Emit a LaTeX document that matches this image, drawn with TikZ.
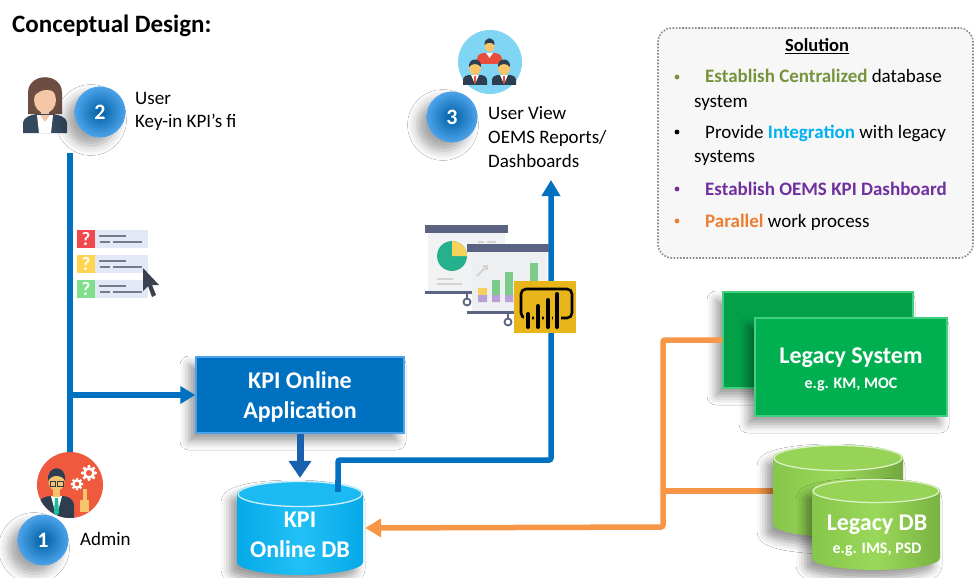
\documentclass[tikz,border=0pt]{standalone}
\usepackage{fontspec}
\setmainfont{Carlito}
\usetikzlibrary{arrows.meta,shadows.blur}

\definecolor{kblue}{HTML}{0070C0}
\definecolor{kbluedark}{HTML}{1761AD}
\definecolor{kbluerim}{HTML}{4DA3EA}
\definecolor{kcyan}{HTML}{06AAE8}
\definecolor{kcyanlite}{HTML}{22C0F6}
\definecolor{kcyantop}{HTML}{1BBAF2}
\definecolor{korange}{HTML}{F79646}
\definecolor{lsysfront}{HTML}{00B050}
\definecolor{lsysback}{HTML}{03A04A}
\definecolor{lsysrim}{HTML}{43CF80}
\definecolor{ldbbody}{HTML}{86C64A}
\definecolor{ldblite}{HTML}{9AD85A}
\definecolor{ldbtop}{HTML}{96D356}
\definecolor{solgreen}{HTML}{77933C}
\definecolor{solblue}{HTML}{00B0F0}
\definecolor{solpurple}{HTML}{7030A0}
\definecolor{solorange}{HTML}{ED7D31}
\definecolor{solfill}{HTML}{F7F7F7}
\definecolor{solrim}{HTML}{8A8A8A}
\definecolor{hair}{HTML}{6D4C41}
\definecolor{skinpeach}{HTML}{F5C7A6}
\definecolor{skinyel}{HTML}{F6C46A}
\definecolor{suit}{HTML}{34495E}
\definecolor{navy}{HTML}{2C3E50}
\definecolor{adminred}{HTML}{EF5A3F}
\definecolor{teal}{HTML}{1ABC9C}
\definecolor{groupblue}{HTML}{80D5F5}
\definecolor{tiered}{HTML}{E74C3C}
\definecolor{qred}{HTML}{F2484B}
\definecolor{qyel}{HTML}{FFD54F}
\definecolor{qgrn}{HTML}{7EE08A}
\definecolor{qbg}{HTML}{E3E8F6}
\definecolor{qline}{HTML}{737B8C}
\definecolor{cursorgray}{HTML}{3B4150}
\definecolor{boardbar}{HTML}{5A6382}
\definecolor{boardbg}{HTML}{EDEFF0}
\definecolor{boardbgb}{HTML}{F1F2F3}
\definecolor{pieteal}{HTML}{27B08E}
\definecolor{chartyel}{HTML}{F5D35A}
\definecolor{chartgrn}{HTML}{7CCB8A}
\definecolor{chartpur}{HTML}{B9A0DA}
\definecolor{pbiyel}{HTML}{E8B51A}

\begin{document}
\begin{tikzpicture}[x=1pt,y=1pt,
  bline/.style={draw=kblue, line width=5.5pt},
  oline/.style={draw=korange, line width=5.5pt},
  softshadow/.style={blur shadow={shadow xshift=-7pt, shadow yshift=-8pt, shadow blur radius=9pt, shadow opacity=40}},
  numball/.style={circle, minimum size=51pt, inner sep=0, inner color=kblue!85!black, outer color=kbluerim,
    text=white, font=\bfseries\fontsize{22}{24}\selectfont,
    blur shadow={shadow xshift=-9pt, shadow yshift=-8pt, shadow blur radius=10pt, shadow opacity=35}},
  lbl/.style={anchor=base west, inner sep=0, font=\fontsize{19}{23}\selectfont},
  boxlbl/.style={anchor=base, inner sep=0, text=white, font=\bfseries\fontsize{24}{28}\selectfont},
  sublbl/.style={anchor=base, inner sep=0, text=white, font=\bfseries\fontsize{16}{19}\selectfont},
  soltxt/.style={anchor=base west, inner sep=0, font=\fontsize{19}{23}\selectfont},
]
\useasboundingbox (0,0) rectangle (975,-578);
\fill[white] (0,0) rectangle (975,-578);

% ---------- heading ----------
\node[anchor=base west, inner sep=0, font=\bfseries\fontsize{25}{29}\selectfont] (title) at (12,-33) {Conceptual Design:};

% ---------- solution panel ----------
\node[draw=solrim, fill=solfill, rounded corners=14pt, line width=1.6pt,
      dash pattern=on 1.6pt off 1.6pt, minimum width=315pt, minimum height=230pt] (sol) at (815.5,-143) {};
\node[anchor=base, inner sep=0, font=\bfseries\fontsize{18.5}{22}\selectfont] (soltitle) at (817,-52) {\underline{Solution}};
\fill[solgreen]  (677,-77)  circle (2.4);
\fill[black]     (677,-132) circle (2.4);
\fill[solpurple] (677,-189) circle (2.4);
\fill[solorange] (677,-221) circle (2.4);
\node[soltxt] (s1)  at (705,-83)  {\textcolor{solgreen}{\bfseries Establish Centralized} database};
\node[soltxt] (s1b) at (694,-107) {system};
\node[soltxt] (s2)  at (705,-138) {Provide \textcolor{solblue}{\bfseries Integration} with legacy};
\node[soltxt] (s2b) at (694,-162) {systems};
\node[soltxt] (s3)  at (705,-195) {\color{solpurple}\bfseries Establish OEMS KPI Dashboard};
\node[soltxt] (s4)  at (705,-227) {\textcolor{solorange}{\bfseries Parallel} work process};

% ---------- named anchors for the boxes and databases ----------
\node[minimum width=126pt, minimum height=94pt, inner sep=0] (kpidb) at (300,-528) {};
\node[minimum width=130pt, minimum height=92pt, inner sep=0] (ldbb) at (838,-491) {};
\node[minimum width=128pt, minimum height=91pt, inner sep=0] (ldbf) at (876,-524.5) {};
\node[fill=lsysback, draw=lsysrim, line width=1.2pt, minimum width=190pt, minimum height=96pt, softshadow] (lsysb) at (818,-340) {};
\node[fill=lsysfront, draw=lsysrim, line width=1.4pt, minimum width=192pt, minimum height=98pt, softshadow] (lsysf) at (851,-367) {};
\node[boxlbl] (lsyst1) at (851,-363) {Legacy System};
\node[sublbl] (lsyst2) at (851,-388) {e.g. KM, MOC};

\node[fill=kblue, draw=kbluerim, line width=1.5pt, minimum width=208pt, minimum height=76pt, softshadow] (app) at (300,-395) {};
\node[boxlbl] (appt1) at (300,-388) {KPI Online};
\node[boxlbl] (appt2) at (300,-418) {Application};

% ---------- connectors ----------
\coordinate (udrop) at (70,-153);
\coordinate (branch) at (70,-395);
\node[circle, fill=adminred, minimum size=66pt, inner sep=0] (admin) at (70,-485) {};
\draw[bline] (udrop) -- (admin.north);
\draw[bline, -{Triangle[length=15pt,width=17pt]}] (branch) -- (app.west);
\draw[draw=kbluedark, line width=7pt, -{Triangle[length=17pt,width=22pt]}] (app.south) -- ([yshift=3pt]kpidb.north);

\coordinate (dbtap) at (338,-492);
\coordinate (bend) at (551,-460);
\coordinate (viewtip) at (551,-180);
\draw[bline, rounded corners=2pt, -{Triangle[length=16pt,width=18pt]}] (dbtap) |- (bend) -- (viewtip);

\coordinate (ocorner) at (663,-527);
\coordinate (ojoin) at (663,-491);
\draw[oline, rounded corners=2pt, -{Triangle[length=16pt,width=18pt]}] (lsysb.west) -| (ocorner) -- ([xshift=2pt]kpidb.east);
\draw[oline] (ldbb.west) -- (ojoin);

% ---------- KPI Online DB cylinder ----------
\path[softshadow, left color=kcyan, right color=kcyan, middle color=kcyanlite]
  (237,-494) -- (237,-562) arc[start angle=180,end angle=360,x radius=63,y radius=13]
  -- (363,-494) arc[start angle=0,end angle=180,x radius=63,y radius=13] -- cycle;
\fill[kcyantop] (300,-494) ellipse[x radius=63,y radius=13];
\draw[white!80!kcyan, line width=1.3pt] (300,-494) ellipse[x radius=62,y radius=12.5];
\draw[kblue, line width=5.5pt] (338,-492) -- (338,-480);
\node[boxlbl] (dbt1) at (300,-527) {KPI};
\node[boxlbl] (dbt2) at (300,-557) {Online DB};

% ---------- Legacy DB cylinders ----------
\path[softshadow, left color=ldbbody, right color=ldbbody!85!black, middle color=ldblite]
  (773,-458) -- (773,-524) arc[start angle=180,end angle=360,x radius=65,y radius=13]
  -- (903,-458) arc[start angle=0,end angle=180,x radius=65,y radius=13] -- cycle;
\fill[ldbtop] (838,-458) ellipse[x radius=65,y radius=13];
\draw[white!70!ldbtop, line width=1.2pt] (838,-458) ellipse[x radius=64,y radius=12.5];
\path[softshadow, left color=ldbbody, right color=ldbbody!90!black, middle color=ldblite]
  (812,-491) -- (812,-558) arc[start angle=180,end angle=360,x radius=64,y radius=12]
  -- (940,-491) arc[start angle=0,end angle=180,x radius=64,y radius=12] -- cycle;
\fill[ldbtop] (876,-491) ellipse[x radius=64,y radius=12];
\draw[white!70!ldbtop, line width=1.2pt] (876,-491) ellipse[x radius=63,y radius=11.5];
\node[boxlbl] (ldbt1) at (877,-530) {Legacy DB};
\node[sublbl] (ldbt2) at (877,-553) {e.g. IMS, PSD};

% ---------- user (step 2) ----------
\fill[hair] (28,-114) -- (28,-93) .. controls (28,-72) and (62,-72) .. (62,-93) -- (62,-114) -- cycle;
\fill[skinpeach] (45,-100) ellipse[x radius=11,y radius=13];
\fill[hair] (33,-97) .. controls (33,-82) and (52,-78) .. (57,-94) .. controls (50,-88) and (41,-88) .. (33,-97) -- cycle;
\fill[skinpeach] (41,-109) rectangle (49,-117);
\fill[suit] (23,-133) -- (23,-124) .. controls (23,-117) and (30,-115) .. (37,-114) -- (53,-114)
  .. controls (60,-115) and (67,-117) .. (67,-124) -- (67,-133) -- cycle;
\fill[white] (37,-115) -- (53,-115) -- (51,-133) -- (39,-133) -- cycle;
\fill[skinpeach] (40,-115) -- (50,-115) -- (45,-122) -- cycle;
\node[numball] (n2) at (100,-112) {2};
\node[lbl] (u1) at (135,-105) {User};
\node[lbl] (u2) at (135,-128) {Key-in KPI’s fi};

% ---------- form icon ----------
\foreach \y/\c in {230/qred,255/qyel,280/qgrn}{
  \fill[qbg] (95,-\y) rectangle (148,-\y-18);
  \fill[\c] (77,-\y) rectangle (95,-\y-18);
  \node[text=white, font=\bfseries\fontsize{19}{19}\selectfont, inner sep=0] (q\y) at (86,-\y-9) {?};
  \draw[qline, line width=1.8pt] (99,-\y-6) -- (126,-\y-6);
  \draw[qline, line width=1.8pt] (100,-\y-12) -- (110,-\y-12);
  \draw[qline, line width=1.8pt] (113,-\y-12) -- (142,-\y-12);
}
\fill[cursorgray] (143,-268) -- (143,-291) -- (148,-286) -- (152,-297) -- (156,-295) -- (152,-285) -- (159,-285) -- cycle;

% ---------- admin (step 1) ----------
\begin{scope}
  \clip (admin.center) circle (33);
  \fill[navy] (38,-522) -- (38,-506) .. controls (38,-499) and (45,-496) .. (51,-496) -- (62,-496)
    .. controls (68,-496) and (74,-499) .. (74,-506) -- (74,-522) -- cycle;
  \fill[white] (51,-496) -- (62,-496) -- (56.5,-517) -- cycle;
  \fill[teal] (55,-498) -- (58,-498) -- (59,-513) -- (56.5,-516) -- (54,-513) -- cycle;
  \fill[skinyel] (53,-490) rectangle (60,-497);
  \fill[skinyel] (56.5,-481) ellipse[x radius=8,y radius=10];
  \fill[navy] (48,-481) .. controls (46,-465) and (67,-463) .. (65,-481) .. controls (62,-474) and (52,-474) .. (48,-481) -- cycle;
  \draw[navy, line width=1pt] (50,-481) rectangle (55.5,-486) (57.5,-481) rectangle (63,-486);
  \fill[skinyel] (80,-512) rectangle (89,-500);
  \fill[skinyel] (83,-501) rectangle (86.5,-489);
  \draw[white, line width=2.2pt] (77,-484) circle (3.6);
  \foreach \a in {0,45,...,315} \fill[white] (77,-484) ++(\a:5) circle (1.5);
  \draw[white, line width=2.6pt] (89,-473) circle (4.6);
  \foreach \a in {0,45,...,315} \fill[white] (89,-473) ++(\a:6.6) circle (1.8);
\end{scope}
\node[numball] (n1) at (43,-540) {1};
\node[lbl] (adm) at (80,-545) {Admin};

% ---------- report viewers (step 3) ----------
\node[circle, fill=groupblue, minimum size=64pt, inner sep=0] (group) at (490,-62) {};
\fill[tiered] (477,-64) -- (477,-59) .. controls (477,-54) and (482,-53) .. (486,-53) -- (493,-53)
  .. controls (497,-53) and (502,-54) .. (502,-59) -- (502,-64) -- cycle;
\fill[white] (486,-53) -- (493,-53) -- (489.5,-58) -- cycle;
\fill[skinyel] (489.5,-46) ellipse[x radius=5,y radius=6];
\fill[navy] (484.5,-45) .. controls (484,-36) and (495,-36) .. (494.5,-45) .. controls (492,-42) and (487,-42) .. (484.5,-45) -- cycle;
\foreach \mx in {475,504}{
  \fill[navy] (\mx-12,-85) -- (\mx-12,-80) .. controls (\mx-12,-76) and (\mx-8,-75) .. (\mx-4,-75) -- (\mx+4,-75)
    .. controls (\mx+8,-75) and (\mx+12,-76) .. (\mx+12,-80) -- (\mx+12,-85) -- cycle;
  \fill[white] (\mx-4,-75) -- (\mx+4,-75) -- (\mx,-84) -- cycle;
  \fill[tiered] (\mx-1.3,-76) rectangle (\mx+1.3,-83);
  \fill[skinyel] (\mx,-68) ellipse[x radius=6,y radius=7];
  \fill[navy] (\mx-6,-67) .. controls (\mx-7,-57) and (\mx+7,-57) .. (\mx+6,-67) .. controls (\mx+3,-63) and (\mx-3,-63) .. (\mx-6,-67) -- cycle;
}
\node[numball] (n3) at (452,-117) {3};
\node[lbl] (v1) at (488,-120) {User View};
\node[lbl] (v2) at (488,-143) {OEMS Reports/};
\node[lbl] (v3) at (488,-167) {Dashboards};

% ---------- dashboard boards ----------
\fill[boardbgb] (428,-233) rectangle (505,-291);
\fill[boardbar] (425,-225) rectangle (508,-233);
\fill[pieteal] (452,-256) circle (15);
\fill[chartyel] (452,-256) -- (467,-256) arc[start angle=0,end angle=90,radius=15] -- cycle;
\draw[gray!35, line width=1.5pt] (478,-242) -- (484,-242) (487,-242) -- (496,-242);
\draw[gray!35, line width=1.8pt] (437,-279) -- (453,-279) (437,-284) -- (462,-284);
\fill[boardbar] (425,-291) rectangle (508,-294);
\draw[boardbar, line width=1.8pt] (467,-294) -- (467,-298);
\draw[boardbar, line width=1.8pt] (467,-302) circle (3.5);

\fill[boardbg] (472,-252) rectangle (547,-311);
\fill[boardbar] (467,-244) rectangle (549,-252);
\draw[gray!35, line width=2pt, -{Straight Barb[length=3pt,width=6pt]}] (477,-276) -- (488,-265);
\fill[chartyel] (478,-288) rectangle (487,-295);
\fill[chartgrn] (492,-280) rectangle (500,-295);
\fill[chartgrn] (505,-272) rectangle (513,-295);
\fill[chartgrn] (530,-263) rectangle (538,-295);
\fill[chartpur] (478,-295) rectangle (487,-302) (492,-295) rectangle (500,-302) (505,-295) rectangle (513,-302);
\fill[boardbar] (467,-311) rectangle (550,-314);
\draw[boardbar, line width=1.8pt] (508,-314) -- (508,-318);
\draw[boardbar, line width=1.8pt] (508,-322) circle (3.5);

% ---------- Power BI tile ----------
\fill[pbiyel] (514,-281) rectangle (576,-333);
\draw[black, line width=2.6pt, rounded corners=5pt] (521,-289) rectangle (572,-318);
\foreach \bx/\bt in {528/-314,538/-306,548/-300,557/-294}{
  \draw[pbiyel, line width=8pt] (\bx,\bt) -- (\bx,-327);
  \draw[black, line width=4pt, line cap=round] (\bx,\bt) -- (\bx,-327);
}
\end{tikzpicture}
\end{document}
